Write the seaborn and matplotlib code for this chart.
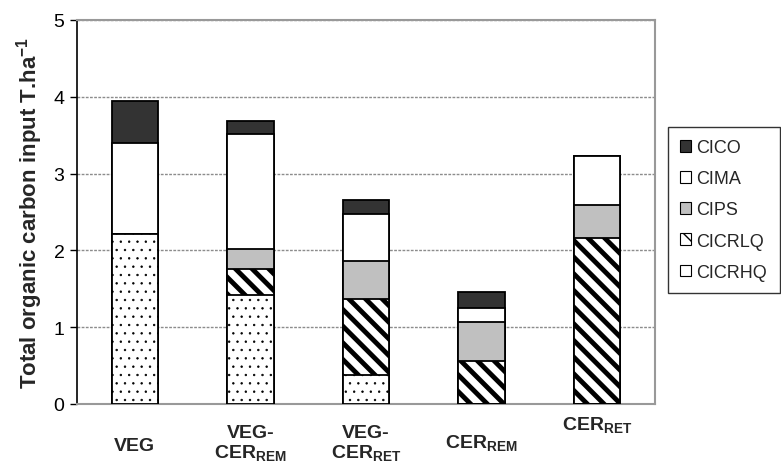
import matplotlib
matplotlib.use("Agg")
import matplotlib.pyplot as plt
import seaborn as sns
import pandas as pd
from matplotlib.patches import Patch

# --- data (T/ha) ---
systems = ["VEG", "VEG-CER_REM", "VEG-CER_RET", "CER_REM", "CER_RET"]
cicrhq = [2.21, 1.42, 0.38, 0.00, 0.00]
cicrlq = [0.00, 0.34, 0.99, 0.56, 2.16]
cips = [0.00, 0.26, 0.49, 0.51, 0.43]
cima = [1.19, 1.50, 0.61, 0.18, 0.64]
cico = [0.55, 0.17, 0.19, 0.21, 0.00]

x_labels = ["VEG", "VEG-\nCER$_\\mathbf{REM}$", "VEG-\nCER$_\\mathbf{RET}$",
            "CER$_\\mathbf{REM}$", "CER$_\\mathbf{RET}$"]
x_label_y = [-0.109, -0.102, -0.102, -0.099, -0.052]

df = pd.DataFrame({"system": systems, "CICRHQ": cicrhq, "CICRLQ": cicrlq,
                   "CIPS": cips, "CIMA": cima, "CICO": cico})

# stack order bottom -> top, styles
layers = ["CICRHQ", "CICRLQ", "CIPS", "CIMA", "CICO"]
styles = {
    "CICO": dict(color="#333333", hatch=None, hlw=1.0),
    "CIMA": dict(color="white", hatch=None, hlw=1.0),
    "CIPS": dict(color="#c0c0c0", hatch=None, hlw=1.0),
    "CICRLQ": dict(color="white", hatch="\\\\", hlw=3.5),
    "CICRHQ": dict(color="white", hatch="..", hlw=0.5),
}

cum = df[layers].cumsum(axis=1)

sns.set_style("white")
plt.rcParams["font.family"] = ["Liberation Sans", "DejaVu Sans"]
plt.rcParams["mathtext.fontset"] = "custom"
plt.rcParams["mathtext.rm"] = "Liberation Sans"
plt.rcParams["mathtext.bf"] = "Liberation Sans:bold"
plt.rcParams["mathtext.it"] = "Liberation Sans:italic"
plt.rcParams["hatch.color"] = "black"

fig = plt.figure(figsize=(7.81, 4.77), dpi=100)
ax = fig.add_axes([77 / 781, 72 / 477, 578 / 781, 384 / 477])

# draw cumulative totals from the top layer down so lower layers overlay
for layer in reversed(layers):
    st = styles[layer]
    n_before = len(ax.patches)
    with plt.rc_context({"hatch.linewidth": st["hlw"]}):
        sns.barplot(x=df["system"], y=cum[layer], color=st["color"], saturation=1,
                    width=0.4, edgecolor="black", linewidth=1.3, errorbar=None,
                    order=systems, ax=ax)
        for p in ax.patches[n_before:]:
            if st["hatch"]:
                p.set_hatch(st["hatch"])
            if hasattr(p, "set_hatch_linewidth"):
                p.set_hatch_linewidth(st["hlw"])
            p.set_zorder(3)

ax.set_ylim(0, 5)
ax.set_xlim(-0.5, 4.5)
ax.set_yticks([0, 1, 2, 3, 4, 5])
ax.yaxis.grid(True, color="#8c8c8c", linestyle=(0, (2, 1)), linewidth=1)
ax.set_axisbelow(True)
ax.tick_params(axis="y", direction="out", length=5, width=1, colors="black",
               labelsize=14, pad=4, left=True)
ax.tick_params(axis="x", bottom=False, labelbottom=False)
ax.set_xlabel("")
ax.set_ylabel("Total organic carbon input T.ha$^\\mathbf{-1}$", fontsize=16,
              fontweight="bold", labelpad=6)

ax.spines["left"].set_color("black")
ax.spines["left"].set_linewidth(1.2)
for s in ["top", "right", "bottom"]:
    ax.spines[s].set_color("#999999")
    ax.spines[s].set_linewidth(1.5)

for i, (lab, yy) in enumerate(zip(x_labels, x_label_y)):
    ax.text(i, yy, lab, transform=ax.get_xaxis_transform(), ha="center",
            va="center", fontsize=14, fontweight="bold", linespacing=1.1)

# legend (top entry = top of stack)
handles = []
for layer in reversed(layers):
    st = styles[layer]
    handles.append(Patch(facecolor=st["color"], edgecolor="black", linewidth=0.8,
                         hatch=st["hatch"] if layer == "CICRLQ" else None,
                         label=layer))
leg = fig.legend(handles=handles, loc="upper left",
                 bbox_to_anchor=(668 / 781, 1 - 128 / 477), borderaxespad=0,
                 fontsize=13, frameon=True, fancybox=False, edgecolor="black",
                 handlelength=0.6, handleheight=0.6, handletextpad=0.3,
                 labelspacing=0.78, borderpad=0.68)
leg.get_frame().set_linewidth(1.0)

fig.savefig("out.png", dpi=100)
